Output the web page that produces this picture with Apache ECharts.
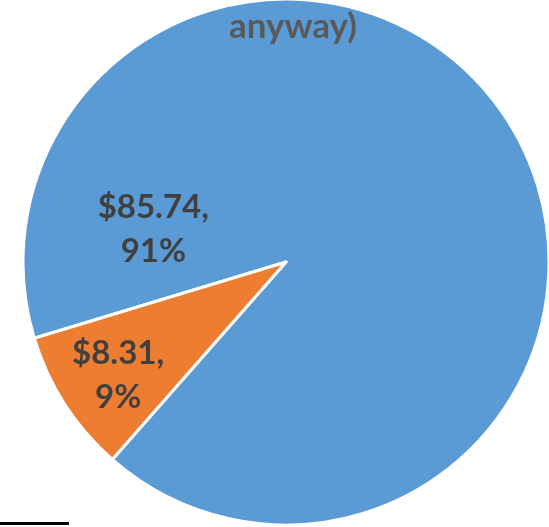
<!DOCTYPE html>
<html>
<head>
<meta charset="utf-8">
<script src="https://cdn.jsdelivr.net/npm/echarts@6/dist/echarts.min.js"></script>
<style>
  html, body { margin: 0; padding: 0; background: #ffffff; }
  #chart { width: 549px; height: 527px; }
</style>
</head>
<body>
<div id="chart"></div>
<script>
// Slice names and amounts (dollars)
const categories = ['Main share', 'Other share'];
const values = [85.74, 8.31];
const sliceColors = ['#5B9BD5', '#ED7D31'];
const titleText = 'anyway)';

const CX = 286, CY = 262, R = 263;
const FONT = 'Lato, "Open Sans", sans-serif';

// Where each slice's label sits, as (angle in degrees, fraction of radius) around the pie centre
const labelPolar = [
  { angle: 166, frac: 0.52 },
  { angle: 214, frac: 0.77 }
];

const chart = echarts.init(document.getElementById('chart'), null, { renderer: 'canvas' });

chart.setOption({
  backgroundColor: '#ffffff',
  animation: false,
  title: {
    text: titleText,
    left: 224,
    top: 4,
    textStyle: { fontFamily: FONT, fontWeight: 'bold', fontSize: 35, color: '#595959' }
  },
  graphic: [
    { type: 'rect', shape: { x: 0, y: 522, width: 69, height: 3 }, style: { fill: '#000000' }, z: 10 }
  ],
  series: [{
    type: 'pie',
    center: [CX, CY],
    radius: R,
    startAngle: 196.85,
    clockwise: true,
    percentPrecision: 0,
    avoidLabelOverlap: false,
    itemStyle: { borderColor: '#ffffff', borderWidth: 3 },
    label: {
      show: true,
      position: 'inside',
      align: 'center',
      verticalAlign: 'middle',
      fontFamily: FONT,
      fontWeight: 'bold',
      fontSize: 33,
      lineHeight: 44,
      color: '#404040',
      formatter: p => '$' + p.value.toFixed(2) + ',\n' + p.percent + '%'
    },
    labelLine: { show: false },
    labelLayout: p => {
      const lp = labelPolar[p.dataIndex];
      const a = lp.angle * Math.PI / 180;
      return {
        x: CX + Math.cos(a) * R * lp.frac,
        y: CY - Math.sin(a) * R * lp.frac,
        align: 'center',
        verticalAlign: 'middle'
      };
    },
    data: categories.map((name, i) => ({
      name: name,
      value: values[i],
      itemStyle: { color: sliceColors[i] }
    }))
  }]
});
</script>
</body>
</html>
